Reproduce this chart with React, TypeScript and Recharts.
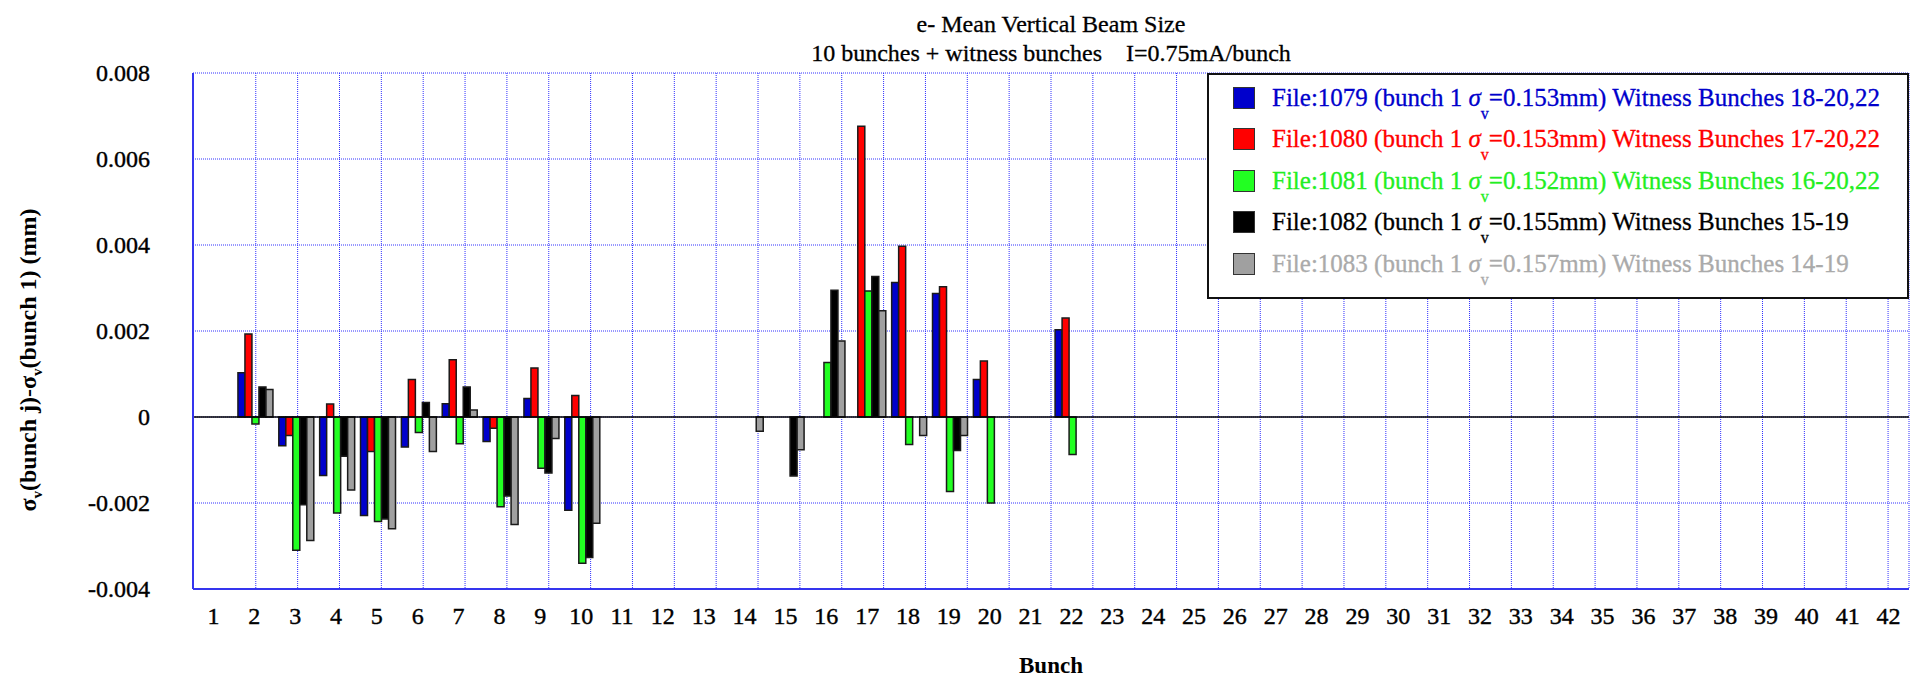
import React from 'react';
import { BarChart, Bar, XAxis, YAxis, CartesianGrid, ReferenceLine, Legend } from 'recharts';

// ---- data ----
const bunches = ['1','2','3','4','5','6','7','8','9','10','11','12','13','14','15','16','17','18','19','20','21','22','23','24','25','26','27','28','29','30','31','32','33','34','35','36','37','38','39','40','41','42'];

const file1079 = [null, 0.00103, -0.00067, -0.00136, -0.00229, -0.00070, 0.00031, -0.00057, 0.00043, -0.00217, null, null, null, null, null, null, null, 0.00313, 0.00287, 0.00087, null, 0.00203];
const file1080 = [null, 0.00193, -0.00043, 0.00030, -0.00080, 0.00087, 0.00133, -0.00026, 0.00114, 0.00050, null, null, null, null, null, null, 0.00676, 0.00397, 0.00303, 0.00130, null, 0.00230];
const file1081 = [null, -0.00016, -0.00310, -0.00223, -0.00243, -0.00036, -0.00062, -0.00209, -0.00119, -0.00340, null, null, null, null, null, 0.00127, 0.00293, -0.00064, -0.00173, -0.00200, null, -0.00087];
const file1082 = [null, 0.00070, -0.00204, -0.00091, -0.00237, 0.00034, 0.00070, -0.00184, -0.00130, -0.00327, null, null, null, null, -0.00137, 0.00295, 0.00327, null, -0.00078];
const file1083 = [null, 0.00064, -0.00287, -0.00170, -0.00260, -0.00080, 0.00016, -0.00250, -0.00050, -0.00247, null, null, null, -0.00033, -0.00076, 0.00177, 0.00247, -0.00043, -0.00043];

const yTicks = [-0.004, -0.002, 0, 0.002, 0.004, 0.006, 0.008];

const seriesKeys = ['f1079', 'f1080', 'f1081', 'f1082', 'f1083'];
const seriesValues = [file1079, file1080, file1081, file1082, file1083];
const seriesFiles = ['File:1079', 'File:1080', 'File:1081', 'File:1082', 'File:1083'];
const seriesSigma = ['0.153', '0.153', '0.152', '0.155', '0.157'];
const seriesWitness = ['18-20,22', '17-20,22', '16-20,22', '15-19', '14-19'];
const seriesFill = ['#0000cc', '#ff0000', '#22ff22', '#000000', '#a0a0a0'];
const seriesText = ['#0000cc', '#ff0000', '#22ee22', '#000000', '#aaaaaa'];

const titleLine1 = 'e- Mean Vertical Beam Size';
const titleLine2 = '10 bunches + witness bunches    I=0.75mA/bunch';
const xLabel = 'Bunch';

const data = bunches.map((b, i) => {
  const row: any = { bunch: b };
  seriesKeys.forEach((k, s) => {
    const v = seriesValues[s][i];
    row[k] = v === undefined ? null : v;
  });
  return row;
});

const boundaryTicks = bunches.slice(1).map((_, i) => i + 1.5);

// ---- style ----
const FONT = '"Liberation Serif", "Times New Roman", serif';
const FRAME = '#3535ee';
const GRID = '#3030ff';
const W = 1911;
const H = 677;

const XTick = (props: any) => {
  const { x, y, payload } = props;
  return (
    <text x={x} y={y} textAnchor="middle" dominantBaseline="central" fontSize={24} fontFamily={FONT} fill="#000" stroke="#000" strokeWidth={0.4}>
      {payload.value}
    </text>
  );
};

const YTick = (props: any) => {
  const { x, y, payload } = props;
  const v = payload.value;
  const label = v === 0 ? '0' : v.toFixed(3);
  return (
    <text x={x} y={y} textAnchor="end" dominantBaseline="central" fontSize={24} fontFamily={FONT} fill="#000" stroke="#000" strokeWidth={0.4}>
      {label}
    </text>
  );
};

const Empty = () => <g />;

const YLabel = (props: any) => {
  const vb = props.viewBox || { y: 73, height: 516 };
  const cy = vb.y + vb.height / 2 + 29;
  return (
    <text
      transform={`translate(28,${cy}) rotate(-90)`}
      textAnchor="middle"
      dominantBaseline="central"
      fontSize={24}
      fontWeight="bold"
      fontFamily={FONT}
      fill="#000"
    >
      <tspan>σ</tspan>
      <tspan dy={9} fontSize={15}>v</tspan>
      <tspan dy={-9}>(bunch j)-σ</tspan>
      <tspan dy={9} fontSize={15}>v</tspan>
      <tspan dy={-9}>(bunch 1) (mm)</tspan>
    </text>
  );
};

const XLabel = (props: any) => {
  const vb = props.viewBox || { x: 193, width: 1716, y: 589 };
  return (
    <text x={vb.x + vb.width / 2} y={vb.y + 76} textAnchor="middle" dominantBaseline="central" fontSize={23} fontWeight="bold" fontFamily={FONT} fill="#000">
      {xLabel}
    </text>
  );
};

const LegendBox = () => (
  <div
    style={{
      border: '2px solid #111',
      background: '#fff',
      width: 702,
      height: 226,
      boxSizing: 'border-box',
      paddingTop: 2,
      fontFamily: FONT,
      fontSize: 25,
    }}
  >
    {seriesKeys.map((k, i) => (
      <div key={k} style={{ display: 'flex', alignItems: 'center', height: 41.5, color: seriesText[i], whiteSpace: 'pre', WebkitTextStroke: '0.3px' }}>
        <span
          style={{
            width: 22,
            height: 22,
            background: seriesFill[i],
            border: '1.5px solid #333',
            boxSizing: 'border-box',
            marginLeft: 24,
            marginRight: 17,
            flex: 'none',
          }}
        />
        <span>
          {`${seriesFiles[i]} (bunch 1 `}
          <i>σ</i>
          <span style={{ fontSize: 16, position: 'relative', top: 13 }}>v</span>
          {`=${seriesSigma[i]}mm) Witness Bunches ${seriesWitness[i]}`}
        </span>
      </div>
    ))}
  </div>
);

export default function App() {
  return (
    <div style={{ position: 'absolute', left: 0, top: 0, width: W, height: H, background: '#fff', overflow: 'hidden' }}>
      <div
        style={{
          position: 'absolute',
          left: 193,
          width: 1716,
          top: 10,
          textAlign: 'center',
          fontFamily: FONT,
          fontSize: 24,
          lineHeight: '29px',
          color: '#000',
          whiteSpace: 'pre',
          WebkitTextStroke: '0.3px #000',
          zIndex: 2,
        }}
      >
        <div>{titleLine1}</div>
        <div>{titleLine2}</div>
      </div>
      <BarChart
        width={W}
        height={H}
        data={data}
        margin={{ top: 73, right: 2, bottom: 0, left: 0 }}
        barCategoryGap="10%"
        barGap={0}
      >
        <CartesianGrid xAxisId="stubB" stroke={GRID} strokeDasharray="1 1" strokeWidth={1} />
        <XAxis
          dataKey="bunch"
          interval={0}
          height={88}
          tickSize={0}
          tickMargin={27}
          tickLine={false}
          axisLine={{ stroke: FRAME, strokeWidth: 2 }}
          tick={<XTick />}
          label={<XLabel />}
        />
        <XAxis
          xAxisId="stubB"
          type="number"
          domain={[0.5, 42.5]}
          allowDataOverflow
          ticks={boundaryTicks}
          interval={0}
          mirror
          orientation="bottom"
          height={0}
          axisLine={false}
          tickSize={10}
          tickLine={{ stroke: FRAME, strokeWidth: 2 }}
          tick={<Empty />}
        />
        <XAxis
          xAxisId="top"
          type="number"
          domain={[0.5, 42.5]}
          allowDataOverflow
          ticks={boundaryTicks}
          interval={0}
          mirror
          orientation="top"
          height={0}
          axisLine={{ stroke: FRAME, strokeWidth: 2 }}
          tickSize={10}
          tickLine={{ stroke: FRAME, strokeWidth: 2 }}
          tick={<Empty />}
        />
        <YAxis
          domain={[-0.004, 0.008]}
          ticks={yTicks}
          interval={0}
          allowDataOverflow
          width={193}
          tickSize={0}
          tickMargin={43}
          tickLine={false}
          axisLine={{ stroke: FRAME, strokeWidth: 2 }}
          tick={<YTick />}
          label={<YLabel />}
        />
        <YAxis
          yAxisId="stubL"
          domain={[-0.004, 0.008]}
          ticks={yTicks}
          interval={0}
          allowDataOverflow
          mirror
          orientation="left"
          width={0}
          axisLine={false}
          tickSize={10}
          tickLine={{ stroke: FRAME, strokeWidth: 2 }}
          tick={<Empty />}
        />
        <YAxis
          yAxisId="right"
          domain={[-0.004, 0.008]}
          ticks={yTicks}
          interval={0}
          allowDataOverflow
          mirror
          orientation="right"
          width={0}
          axisLine={{ stroke: FRAME, strokeWidth: 2 }}
          tickLine={false}
          tick={<Empty />}
        />
        <ReferenceLine y={0} stroke="#000" strokeWidth={1.5} />
        <Legend
          layout="vertical"
          align="center"
          verticalAlign="middle"
          wrapperStyle={{ top: 73, left: 1207, width: 702, height: 226 }}
          content={<LegendBox />}
        />
        {seriesKeys.map((k, i) => (
          <Bar key={k} dataKey={k} name={seriesFiles[i]} fill={seriesFill[i]} stroke="#1a1a1a" strokeWidth={1.5} isAnimationActive={false} />
        ))}
      </BarChart>
    </div>
  );
}
